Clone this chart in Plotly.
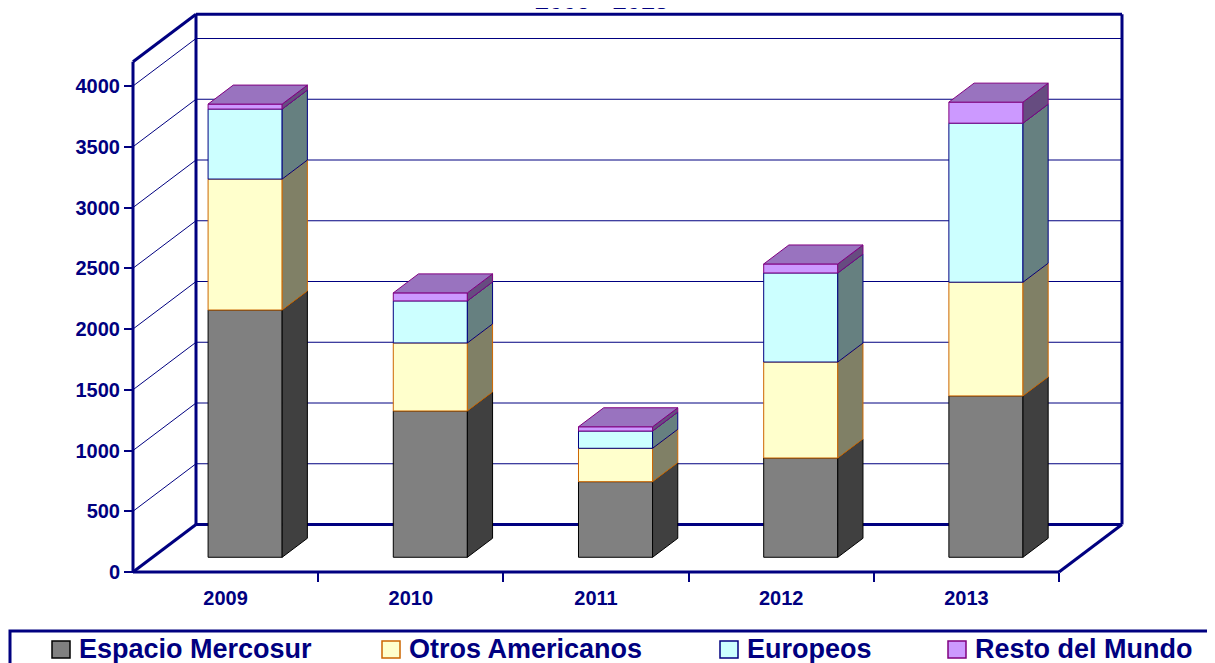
import plotly.graph_objects as go

# ---------------- data ----------------
years = ["2009", "2010", "2011", "2012", "2013"]
series_names = ["Espacio Mercosur", "Otros Americanos", "Europeos", "Resto del Mundo"]
mercosur = [2035, 1204, 622, 817, 1328]
otros_americanos = [1078, 560, 275, 790, 936]
europeos = [576, 346, 142, 733, 1309]
resto_mundo = [41, 66, 35, 74, 173]
y_tick_values = [0, 500, 1000, 1500, 2000, 2500, 3000, 3500, 4000]
title_text = "2009 - 2013"
wall_top = 4200

series_values = [mercosur, otros_americanos, europeos, resto_mundo]

# ---------------- styles ----------------
NAVY = "#000080"
FONT = "Liberation Sans, Arial, sans-serif"
front_colors = ["#808080", "#FFFFCC", "#CCFFFF", "#CC99FF"]
side_colors = ["#404040", "#808066", "#668080", "#664C80"]
edge_colors = ["#000000", "#CC6600", "#000080", "#800080"]
top_color = "#9973BF"

OFF = 8  # page body margin of the browser
W, H = 1215, 663


def P(p):
    return p - OFF


PLOT_L, PLOT_R, PLOT_T, PLOT_B = P(127), P(1130), P(8), P(578)
ORIG_X, ORIG_Y = P(133), P(572)     # front-left-bottom corner (px)
PX_PER_CAT = 185.2
PX_PER_UNIT = 0.1215
DX = 63 / PX_PER_CAT                # full depth offset (x units)
DY = 47.5 / PX_PER_UNIT             # full depth offset (value units)
D0, D1 = 0.31, 0.71                 # bar depth position
HW = 0.2                            # bar half width

x_min = -0.5 - (ORIG_X - PLOT_L) / PX_PER_CAT
x_max = -0.5 + (PLOT_R - ORIG_X) / PX_PER_CAT
y_min = -(PLOT_B - ORIG_Y) / PX_PER_UNIT
y_max = (ORIG_Y - PLOT_T) / PX_PER_UNIT
n = len(years)
XL, XR = -0.5, n - 0.5


def pxx(p):
    return (P(p) - PLOT_L) / (PLOT_R - PLOT_L)


def pxy(p):
    return (PLOT_B - P(p)) / (PLOT_B - PLOT_T)


fig = go.Figure()


def seg_trace(segs, width, color):
    xs, ys = [], []
    for (x0, y0, x1, y1) in segs:
        xs += [x0, x1, None]
        ys += [y0, y1, None]
    fig.add_trace(go.Scatter(x=xs, y=ys, mode="lines", showlegend=False,
                             hoverinfo="skip",
                             line=dict(color=color, width=width)))


# gridlines (back wall + left side wall)
grid = []
for v in y_tick_values[1:]:
    grid.append((XL + DX, v + DY, XR + DX, v + DY))
    grid.append((XL, v, XL + DX, v + DY))
seg_trace(grid, 1, NAVY)

# frame
frame = [
    (XL, 0, XL, wall_top),
    (XL, wall_top, XL + DX, wall_top + DY),
    (XL + DX, DY, XL + DX, wall_top + DY),
    (XL + DX, wall_top + DY, XR + DX, wall_top + DY),
    (XR + DX, wall_top + DY, XR + DX, DY),
    (XL + DX, DY, XR + DX, DY),
    (XL, 0, XR, 0),
    (XL, 0, XL + DX, DY),
    (XR, 0, XR + DX, DY),
]
seg_trace(frame, 3, NAVY)


def poly(xs, ys, fill, edge):
    fig.add_trace(go.Scatter(x=xs + [xs[0]], y=ys + [ys[0]], mode="lines",
                             fill="toself", fillcolor=fill,
                             line=dict(color=edge, width=1),
                             showlegend=False, hoverinfo="skip"))


# bars
for i in range(n):
    base = 0
    for s, vals in enumerate(series_values):
        top = base + vals[i]
        xl0, xr0 = i - HW + D0 * DX, i + HW + D0 * DX
        xr1 = i + HW + D1 * DX
        xl1 = i - HW + D1 * DX
        b0, t0 = base + D0 * DY, top + D0 * DY
        b1, t1 = base + D1 * DY, top + D1 * DY
        poly([xl0, xr0, xr0, xl0], [b0, b0, t0, t0], front_colors[s], edge_colors[s])
        poly([xr0, xr1, xr1, xr0], [b0, b1, t1, t0], side_colors[s], edge_colors[s])
        if s == len(series_values) - 1:
            poly([xl0, xr0, xr1, xl1], [t0, t0, t1, t1], top_color, edge_colors[s])
        base = top

# legend (box, swatches, labels)
shapes = [dict(type="rect", xref="paper", yref="paper",
               x0=pxx(10), x1=pxx(1240), y0=pxy(631), y1=pxy(690),
               line=dict(color=NAVY, width=3), fillcolor="rgba(0,0,0,0)")]
annotations = []
legend_text_x = [77, 407, 745, 973]
for s, name in enumerate(series_names):
    tx = legend_text_x[s]
    shapes.append(dict(type="rect", xref="paper", yref="paper",
                       x0=pxx(tx - 25), x1=pxx(tx - 7), y0=pxy(658), y1=pxy(641),
                       line=dict(color=edge_colors[s], width=1.5),
                       fillcolor=front_colors[s]))
    annotations.append(dict(xref="paper", yref="paper", x=pxx(tx), y=pxy(649),
                            xanchor="left", yanchor="middle", showarrow=False,
                            text=name,
                            font=dict(family=FONT, size=27, color=NAVY, weight="bold")))

annotations.append(dict(xref="paper", yref="paper", x=pxx(601), y=pxy(16),
                        xanchor="center", yanchor="bottom", showarrow=False,
                        text=title_text,
                        font=dict(family=FONT, size=25, color=NAVY, weight="bold")))

fig.update_layout(
    width=W, height=H,
    margin=dict(l=PLOT_L, r=W - PLOT_R, t=PLOT_T, b=H - PLOT_B, pad=0,
                autoexpand=False),
    paper_bgcolor="white", plot_bgcolor="white",
    showlegend=False, hovermode=False,
    shapes=shapes, annotations=annotations,
    xaxis=dict(range=[x_min, x_max], showgrid=False, zeroline=False, showline=False,
               anchor="free", position=pxy(572), automargin=False,
               tickmode="array", tickvals=list(range(n)), ticktext=years,
               ticks="", ticklabelstandoff=12,
               tickfont=dict(family=FONT, size=20, color=NAVY, weight="bold"),
               minor=dict(tickmode="array", tickvals=[k + 0.5 for k in range(n)],
                          ticks="outside", ticklen=9, tickwidth=2, tickcolor=NAVY),
               fixedrange=True),
    yaxis=dict(range=[y_min, y_max], showgrid=False, zeroline=False, showline=False,
               anchor="free", position=pxx(133), automargin=False,
               tickmode="array", tickvals=y_tick_values,
               ticks="outside", ticklen=9, tickwidth=2, tickcolor=NAVY,
               tickfont=dict(family=FONT, size=20, color=NAVY, weight="bold"),
               fixedrange=True),
)

fig.write_html("out.html")
